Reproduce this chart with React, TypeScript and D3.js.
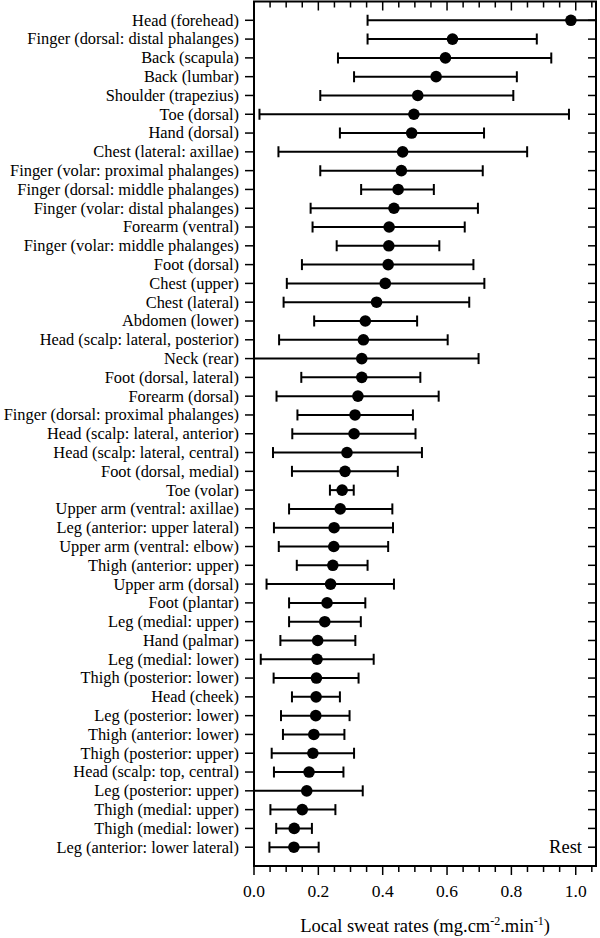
import React from "react";
import * as d3 from "d3";

const categories = [
  "Head (forehead)",
  "Finger (dorsal: distal phalanges)",
  "Back (scapula)",
  "Back (lumbar)",
  "Shoulder (trapezius)",
  "Toe (dorsal)",
  "Hand (dorsal)",
  "Chest (lateral: axillae)",
  "Finger (volar: proximal phalanges)",
  "Finger (dorsal: middle phalanges)",
  "Finger (volar: distal phalanges)",
  "Forearm (ventral)",
  "Finger (volar: middle phalanges)",
  "Foot (dorsal)",
  "Chest (upper)",
  "Chest (lateral)",
  "Abdomen (lower)",
  "Head (scalp: lateral, posterior)",
  "Neck (rear)",
  "Foot (dorsal, lateral)",
  "Forearm (dorsal)",
  "Finger (dorsal: proximal phalanges)",
  "Head (scalp: lateral, anterior)",
  "Head (scalp: lateral, central)",
  "Foot (dorsal, medial)",
  "Toe (volar)",
  "Upper arm (ventral: axillae)",
  "Leg (anterior: upper lateral)",
  "Upper arm (ventral: elbow)",
  "Thigh (anterior: upper)",
  "Upper arm (dorsal)",
  "Foot (plantar)",
  "Leg (medial: upper)",
  "Hand (palmar)",
  "Leg (medial: lower)",
  "Thigh (posterior: lower)",
  "Head (cheek)",
  "Leg (posterior: lower)",
  "Thigh (anterior: lower)",
  "Thigh (posterior: upper)",
  "Head (scalp: top, central)",
  "Leg (posterior: upper)",
  "Thigh (medial: upper)",
  "Thigh (medial: lower)",
  "Leg (anterior: lower lateral)",
];

const means = [
  0.985, 0.617, 0.595, 0.566, 0.509, 0.497, 0.49, 0.462, 0.458, 0.448,
  0.435, 0.42, 0.419, 0.417, 0.408, 0.381, 0.346, 0.34, 0.335, 0.335,
  0.323, 0.314, 0.311, 0.289, 0.283, 0.274, 0.268, 0.249, 0.248, 0.245,
  0.238, 0.227, 0.22, 0.198, 0.196, 0.194, 0.193, 0.192, 0.186, 0.183,
  0.171, 0.164, 0.15, 0.125, 0.124,
];

const lower = [
  0.353, 0.353, 0.261, 0.311, 0.206, 0.017, 0.267, 0.076, 0.206, 0.333,
  0.176, 0.182, 0.257, 0.149, 0.102, 0.092, 0.187, 0.078, -0.028, 0.147,
  0.07, 0.135, 0.119, 0.059, 0.118, 0.236, 0.109, 0.062, 0.077, 0.133,
  0.039, 0.109, 0.109, 0.082, 0.021, 0.061, 0.118, 0.084, 0.09, 0.055,
  0.062, -0.01, 0.051, 0.069, 0.048,
];

const upper = [
  1.617, 0.879, 0.924, 0.817, 0.806, 0.979, 0.715, 0.849, 0.711, 0.559,
  0.696, 0.655, 0.576, 0.682, 0.716, 0.669, 0.507, 0.602, 0.698, 0.517,
  0.574, 0.494, 0.502, 0.522, 0.447, 0.31, 0.43, 0.432, 0.417, 0.353,
  0.435, 0.346, 0.332, 0.315, 0.372, 0.325, 0.267, 0.297, 0.281, 0.311,
  0.278, 0.338, 0.253, 0.18, 0.201,
];

const majorTicks = [0, 0.2, 0.4, 0.6, 0.8, 1.0];
const minorTicks = [0.05, 0.1, 0.15, 0.25, 0.3, 0.35, 0.45, 0.5, 0.55, 0.65, 0.7, 0.75, 0.85, 0.9, 0.95, 1.05];
const panelLabel = "Rest";

const W = 600;
const H = 938;
const FONT = "'Liberation Serif', 'Times New Roman', serif";

export default function App() {
  const x = d3.scaleLinear().domain([0, 1.063]).range([254, 596]);
  const y = d3.scaleLinear().domain([-1, categories.length]).range([1.5, 866]);
  const [x0, x1] = x.range();
  const [y0, y1] = y.range();
  const fmt = d3.format(".1f");
  const cap = 5.5;

  return (
    <svg
      width={W}
      height={H}
      style={{ position: "absolute", left: 0, top: 0, background: "#fff" }}
      fontFamily={FONT}
    >
      <defs>
        <clipPath id="plotclip">
          <rect x={x0} y={y0} width={x1 - x0} height={y1 - y0} />
        </clipPath>
      </defs>
      <rect x={0} y={0} width={W} height={H} fill="#fff" />

      {/* error bars and points */}
      <g clipPath="url(#plotclip)">
        {categories.map((c, i) => {
          const cy = y(i);
          return (
            <g key={c}>
              <line x1={x(lower[i])} x2={x(upper[i])} y1={cy} y2={cy} stroke="#000" strokeWidth={2} />
              <line x1={x(lower[i])} x2={x(lower[i])} y1={cy - cap} y2={cy + cap} stroke="#000" strokeWidth={2} />
              <line x1={x(upper[i])} x2={x(upper[i])} y1={cy - cap} y2={cy + cap} stroke="#000" strokeWidth={2} />
              <circle cx={x(means[i])} cy={cy} r={5.8} fill="#000" />
            </g>
          );
        })}
      </g>

      {/* category ticks & labels */}
      {categories.map((c, i) => (
        <g key={"t" + c}>
          <line x1={x0 - 9} x2={x0} y1={y(i)} y2={y(i)} stroke="#000" strokeWidth={1.5} />
          <line x1={x1 - 8} x2={x1} y1={y(i)} y2={y(i)} stroke="#000" strokeWidth={1.5} />
          <text x={x0 - 15} y={y(i)} dy="0.33em" textAnchor="end" fontSize={16.4} fill="#000">
            {c}
          </text>
        </g>
      ))}

      {/* x ticks */}
      {majorTicks.map((t) => (
        <g key={"M" + t}>
          <line x1={x(t)} x2={x(t)} y1={y1} y2={y1 + 9} stroke="#000" strokeWidth={1.5} />
          <line x1={x(t)} x2={x(t)} y1={y0} y2={y0 + 9} stroke="#000" strokeWidth={1.5} />
          <text x={x(t)} y={897} textAnchor="middle" fontSize={17.5} fill="#000">
            {fmt(t)}
          </text>
        </g>
      ))}
      {minorTicks.map((t) => (
        <g key={"m" + t}>
          <line x1={x(t)} x2={x(t)} y1={y1} y2={y1 + 6} stroke="#000" strokeWidth={1.5} />
          <line x1={x(t)} x2={x(t)} y1={y0} y2={y0 + 6} stroke="#000" strokeWidth={1.5} />
        </g>
      ))}

      {/* frame */}
      <rect x={x0} y={y0} width={x1 - x0} height={y1 - y0} fill="none" stroke="#000" strokeWidth={2} />

      <text x={x1 - 14} y={y(categories.length - 1)} dy="0.33em" textAnchor="end" fontSize={18.5} fill="#000">
        {panelLabel}
      </text>

      <text x={(x0 + x1) / 2} y={932} textAnchor="middle" fontSize={18.5} fill="#000">
        Local sweat rates (mg.cm
        <tspan dy={-7} fontSize={12}>-2</tspan>
        <tspan dy={7}>.min</tspan>
        <tspan dy={-7} fontSize={12}>-1</tspan>
        <tspan dy={7}>)</tspan>
      </text>
    </svg>
  );
}
